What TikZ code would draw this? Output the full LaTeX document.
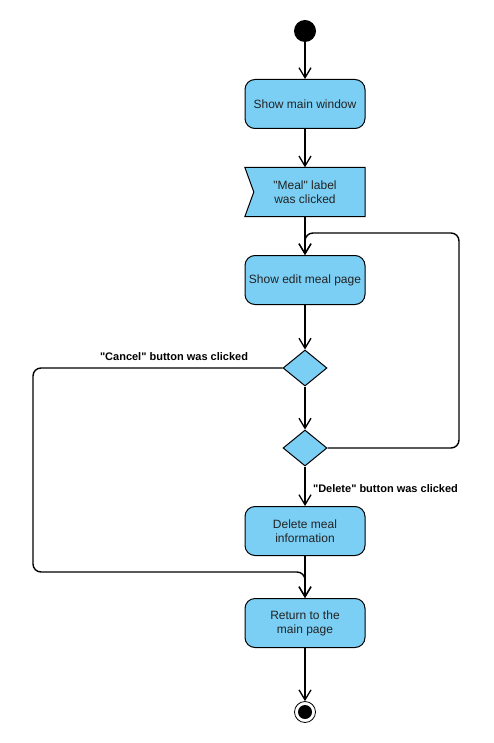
\documentclass[tikz,border=0pt]{standalone}
\usepackage{fontspec}
\setmainfont[Ligatures=TeXOff]{Liberation Sans}
\usetikzlibrary{shapes.geometric,arrows.meta,backgrounds,calc}
\definecolor{actfill}{HTML}{7BCFF4}
\definecolor{txt}{HTML}{222222}
\begin{document}
\begin{tikzpicture}[x=1pt,y=-1pt,
  every node/.style={font=\fontsize{12}{14}\selectfont, text=txt},
  act/.style={draw=black, line width=1pt, fill=actfill, rounded corners=10pt,
    minimum width=120pt, minimum height=49pt, align=center, inner sep=2pt},
  dec/.style={draw=black, line width=1pt, fill=actfill, diamond, minimum width=44pt,
    minimum height=36pt, inner sep=0pt},
  flow/.style={draw=black, line width=1.4pt, -{Straight Barb[length=10pt,width=12pt,line width=1.3pt]}},
  lbl/.style={font=\fontsize{11}{13}\selectfont\bfseries, text=black}]
\useasboundingbox (0,0) rectangle (494,743);

\node[circle, fill=black, minimum size=22pt, inner sep=0pt] (start) at (305,31) {};
\node[act] (main) at (305,104) {Show main window};
\node[minimum width=120pt, minimum height=49pt, align=center, inner sep=0pt] (meal) at (305,192) {"Meal" label\\was clicked};
\begin{scope}[on background layer]
  \fill[white] (0,0) rectangle (494,743);
  \draw[line width=1pt, fill=actfill] (meal.north west) -- (meal.north east) -- (meal.south east)
    -- (meal.south west) -- ($(meal.west)+(9,0)$) -- cycle;
\end{scope}
\node[act] (edit) at (305,280) {Show edit meal page};
\node[dec] (d1) at (305,368) {};
\node[dec] (d2) at (305,448) {};
\node[act] (del) at (305,531) {Delete meal\\information};
\node[act] (ret) at (305,623) {Return to the\\main page};
\node[circle, draw=black, line width=0.8pt, minimum size=21pt, inner sep=0pt] (end) at (305,712) {};
\fill[black] (end.center) circle (7pt);

\coordinate (loopR) at (459,233);
\coordinate (cancelL) at (33,572);

\draw[flow] (start) -- (main);
\draw[flow] (main) -- (meal);
\draw[flow] (meal.south) -- (edit.north);
\draw[flow] (edit) -- (d1);
\draw[flow] (d1) -- (d2);
\draw[flow] (d2) -- node[lbl, anchor=west, xshift=4pt, yshift=-2pt] {"Delete" button was clicked} (del);
\draw[flow] (del) -- (ret);
\draw[flow] (ret) -- (end);
\draw[flow, rounded corners=8pt] (d2.east) -| (loopR) -| (edit.north);
\draw[flow, rounded corners=8pt] (d1.west) -| (cancelL) -| (ret.north);
\node[lbl] (cancelLbl) at (174,357) {"Cancel" button was clicked};
\end{tikzpicture}
\end{document}
